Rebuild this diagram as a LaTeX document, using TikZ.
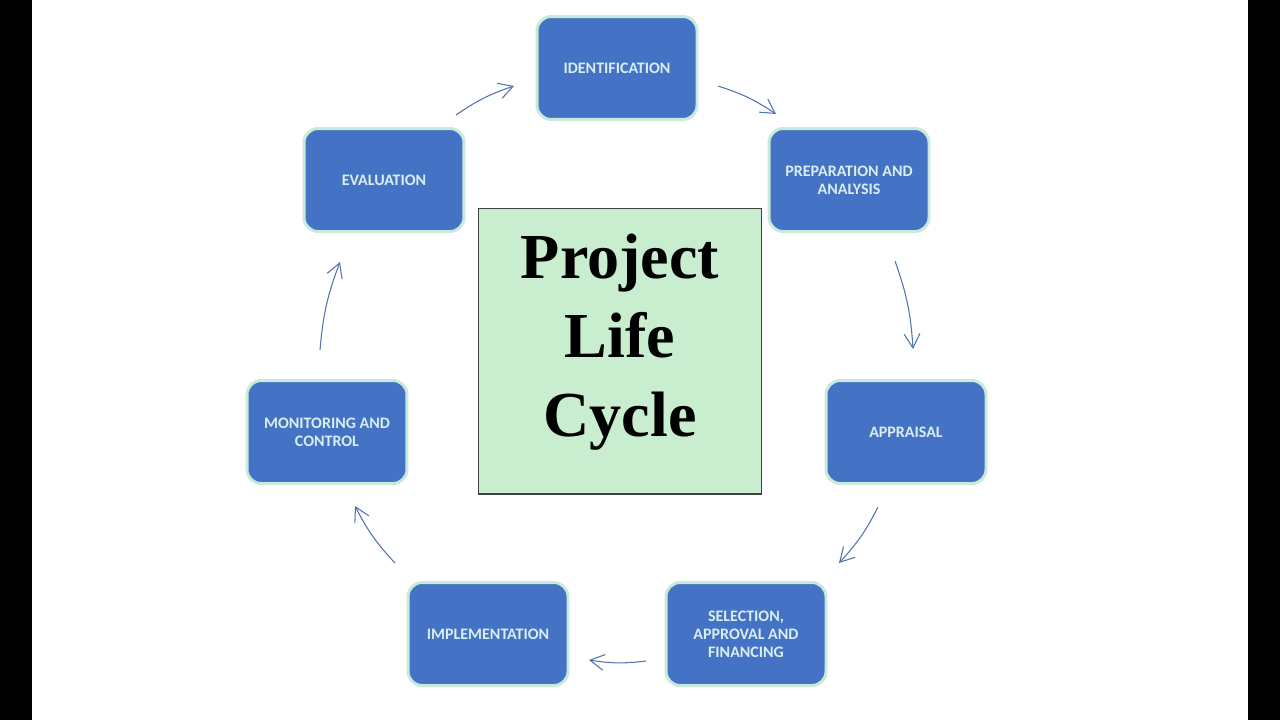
\documentclass[tikz,border=0pt]{standalone}
\usepackage{fontspec}
\setmainfont{Liberation Serif}
\newfontfamily\boxfont{Carlito}
\usetikzlibrary{arrows.meta}
\definecolor{boxblue}{HTML}{4472C4}
\definecolor{boxedge}{HTML}{C8EADB}
\definecolor{boxtext}{HTML}{D8EEF0}
\definecolor{centerfill}{HTML}{C8EDCF}
\definecolor{arrowcol}{HTML}{5272B0}
\tikzset{
  stage/.style={draw=boxedge, line width=1.7pt, fill=boxblue, rounded corners=8pt,
    minimum width=3.2cm, minimum height=2.06cm, align=center, text=boxtext,
    font=\boxfont\bfseries\fontsize{9.1}{10.2}\selectfont, inner sep=2pt},
  centerbox/.style={draw=black!75, line width=0.6pt, fill=centerfill,
    minimum width=5.66cm, minimum height=5.72cm},
  centertext/.style={align=center, font=\bfseries\fontsize{36.5}{45}\selectfont},
  flow/.style={draw=arrowcol, line width=0.6pt, -{Straight Barb[length=8pt,width=9pt]}, bend left=8}
}
\begin{document}
\begin{tikzpicture}[x=0.02cm, y=-0.02cm]
\useasboundingbox (0,0) rectangle (1280,720);
\fill[white] (0,0) rectangle (1280,720);
\fill[black] (0,0) rectangle (32,720);
\fill[black] (1248,0) rectangle (1280,720);

\node[stage] (ident) at (617,68) {IDENTIFICATION};
\node[stage] (prep) at (849,180) {PREPARATION AND\\ANALYSIS};
\node[stage] (appr) at (906,432) {APPRAISAL};
\node[stage] (sel) at (746,634) {SELECTION,\\APPROVAL AND\\FINANCING};
\node[stage] (impl) at (488,634) {IMPLEMENTATION};
\node[stage] (mon) at (327,432) {MONITORING AND\\CONTROL};
\node[stage] (eval) at (384,180) {EVALUATION};

\node[centerbox] (plc) at (620,351) {};
\node[centertext] (plctext) at (620,342) {Project\\Life\\Cycle};

\coordinate (a1s) at (718,86);  \coordinate (a1e) at (776,114);
\coordinate (a2s) at (895,261); \coordinate (a2e) at (913,349);
\coordinate (a3s) at (878,507); \coordinate (a3e) at (839,563);
\coordinate (a4s) at (646,661); \coordinate (a4e) at (589,660);
\coordinate (a5s) at (395,563); \coordinate (a5e) at (355,506);
\coordinate (a6s) at (320,350); \coordinate (a6e) at (340,262);
\coordinate (a7s) at (456,115); \coordinate (a7e) at (514,86);

\draw[flow] (a1s) to (a1e);
\draw[flow] (a2s) to (a2e);
\draw[flow] (a3s) to (a3e);
\draw[flow] (a4s) to (a4e);
\draw[flow] (a5s) to (a5e);
\draw[flow] (a6s) to (a6e);
\draw[flow] (a7s) to (a7e);
\end{tikzpicture}
\end{document}
